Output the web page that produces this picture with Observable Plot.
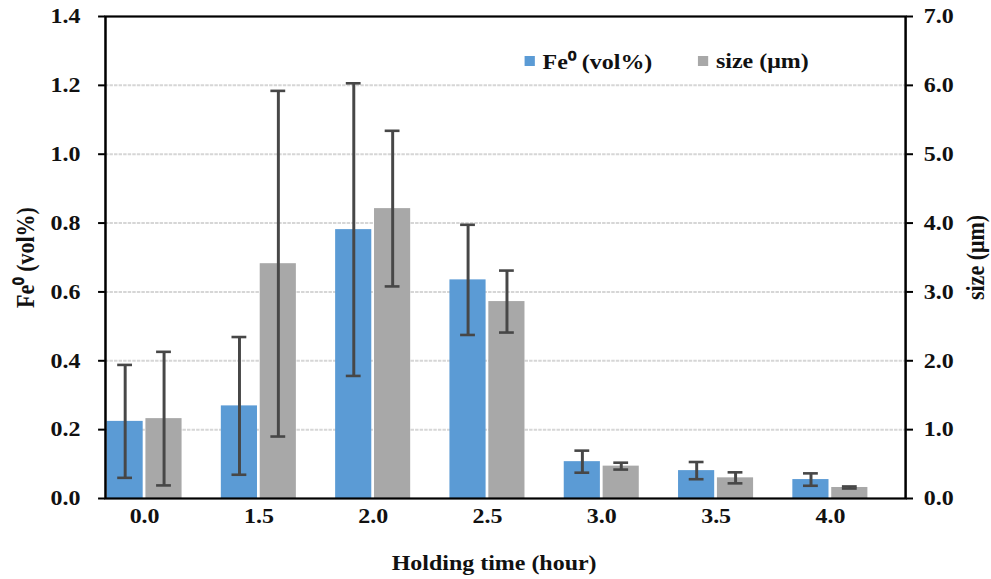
<!DOCTYPE html>
<html>
<head>
<meta charset="utf-8">
<script src="https://cdn.jsdelivr.net/npm/d3@7"></script>
<script src="https://cdn.jsdelivr.net/npm/@observablehq/plot@0.6"></script>
<style>
  html, body { margin: 0; padding: 0; background: #fff; overflow: hidden; }
  #wrap { position: relative; width: 869px; height: 579px; transform: scaleX(1.1404); transform-origin: 0 0; background: #fff;
          font-family: "Liberation Serif", "Times New Roman", serif; font-weight: bold; }
  #legend { position: absolute; left: 0; top: 49px; font-size: 21px; color: #111; white-space: nowrap; }
  #legend .item { position: absolute; top: 0; display: flex; align-items: center; height: 24px; }
  #legend .sw { width: 8.8px; height: 10px; margin-right: 7px; }
</style>
</head>
<body>
<div id="wrap">
  <div id="chart"></div>
  <div id="legend"></div>
</div>
<script>
// ---- data ----
const hours = ["0.0", "1.5", "2.0", "2.5", "3.0", "3.5", "4.0"];
const feVol = [0.224, 0.269, 0.781, 0.635, 0.107, 0.081, 0.055];
const feErr = [0.164, 0.200, 0.425, 0.160, 0.032, 0.025, 0.018];
const sizeUm = [1.16, 3.41, 4.21, 2.86, 0.47, 0.30, 0.16];
const sizeErr = [0.97, 2.51, 1.13, 0.45, 0.05, 0.08, 0.015];
const leftTicks = [0, 0.2, 0.4, 0.6, 0.8, 1.0, 1.2, 1.4];
const rightTicks = [0, 1, 2, 3, 4, 5, 6, 7];
const xTitle = ["Holding time (hour)"];
const yLeftTitle = ["Fe\u2070 (vol%)"];
const yRightTitle = ["size (\u03bcm)"];
const seriesNames = ["Fe\u2070 (vol%)", "size (\u03bcm)"];
const seriesColors = ["#5b9bd5", "#a8a8a8"];

// right axis (0–7 µm) mapped onto left axis (0–1.4 vol%)
const SIZE_TO_FE = leftTicks[leftTicks.length - 1] / rightTicks[rightTicks.length - 1];

const rows = hours.map((h, i) => ({hour: h, fe: feVol[i], feErr: feErr[i], size: sizeUm[i], sizeErr: sizeErr[i]}));

const W = 869, H = 579;
const r0 = 76.2, step = 100.23;
const pIn = 0.3435;
const bw = step * (1 - pIn);
const inset = bw / 2 + 1.2;
const barHalf = (bw - inset) / 2;
const off = bw / 2 - barHalf;     // offset of each bar's centre from band centre
const capInset = (bw - 13) / 2;
const errColor = "#474747";

const chart = Plot.plot({
  width: W, height: H,
  marginLeft: 92, marginRight: 75.4, marginTop: 16, marginBottom: 81,
  style: {fontFamily: '"Liberation Serif", "Times New Roman", serif', fontSize: "21px", fontWeight: "bold", color: "#111", background: "white"},
  x: {type: "band", domain: hours, range: [r0, r0 + 7 * step], paddingInner: pIn, paddingOuter: pIn / 2, round: false, axis: null},
  y: {domain: [0, 1.4], axis: null},
  marks: [
    Plot.gridY(leftTicks.slice(1, -1), {stroke: "#d6d6d6", strokeOpacity: 1, strokeWidth: 2, strokeDasharray: "3,1"}),
    Plot.barY(rows, {x: "hour", y: "fe", fill: seriesColors[0], insetRight: inset}),
    Plot.barY(rows, {x: "hour", y: d => d.size * SIZE_TO_FE, fill: seriesColors[1], insetLeft: inset}),
    // error bars – Fe
    Plot.ruleX(rows, {x: "hour", y1: d => d.fe - d.feErr, y2: d => d.fe + d.feErr, dx: -off, stroke: errColor, strokeWidth: 2.6}),
    Plot.tickY(rows, {x: "hour", y: d => d.fe + d.feErr, dx: -off, insetLeft: capInset, insetRight: capInset, stroke: errColor, strokeWidth: 2.6}),
    Plot.tickY(rows, {x: "hour", y: d => d.fe - d.feErr, dx: -off, insetLeft: capInset, insetRight: capInset, stroke: errColor, strokeWidth: 2.6}),
    // error bars – size
    Plot.ruleX(rows, {x: "hour", y1: d => (d.size - d.sizeErr) * SIZE_TO_FE, y2: d => (d.size + d.sizeErr) * SIZE_TO_FE, dx: off, stroke: errColor, strokeWidth: 2.6}),
    Plot.tickY(rows, {x: "hour", y: d => (d.size + d.sizeErr) * SIZE_TO_FE, dx: off, insetLeft: capInset, insetRight: capInset, stroke: errColor, strokeWidth: 2.6}),
    Plot.tickY(rows, {x: "hour", y: d => (d.size - d.sizeErr) * SIZE_TO_FE, dx: off, insetLeft: capInset, insetRight: capInset, stroke: errColor, strokeWidth: 2.6}),
    Plot.frame({stroke: "#000", strokeWidth: 2.2}),
    Plot.axisY(leftTicks, {anchor: "left", tickSize: 6, tickPadding: 16, strokeWidth: 2, stroke: "#000", tickFormat: d => d.toFixed(1), fontSize: 21, fontWeight: "bold", label: null}),
    Plot.axisY(rightTicks.map(v => v * SIZE_TO_FE), {anchor: "right", tickSize: 6, tickPadding: 10, strokeWidth: 2, stroke: "#000", tickFormat: d => (d / SIZE_TO_FE).toFixed(1), fontSize: 21, fontWeight: "bold", label: null}),
    Plot.axisX({tickSize: 0, tickPadding: 10, fontSize: 21, fontWeight: "bold", label: null}),
    Plot.text(xTitle, {frameAnchor: "bottom", dx: -10, dy: 71, fontSize: 21, fontWeight: "bold", fill: "#111"}),
    Plot.text(yLeftTitle, {frameAnchor: "left", textAnchor: "middle", dx: -70, rotate: -90, fontSize: 22, fontWeight: "bold", fill: "#111"}),
    Plot.text(yRightTitle, {frameAnchor: "right", textAnchor: "middle", dx: 62, rotate: -90, fontSize: 22, fontWeight: "bold", fill: "#111"})
  ]
});
document.getElementById("chart").appendChild(chart);

// legend
const legend = document.getElementById("legend");
const legendX = [460, 612];
seriesNames.forEach((name, i) => {
  const item = document.createElement("div");
  item.className = "item";
  item.style.left = legendX[i] + "px";
  const sw = document.createElement("span");
  sw.className = "sw";
  sw.style.background = seriesColors[i];
  const label = document.createElement("span");
  label.textContent = name;
  item.appendChild(sw);
  item.appendChild(label);
  legend.appendChild(item);
});
</script>
</body>
</html>
